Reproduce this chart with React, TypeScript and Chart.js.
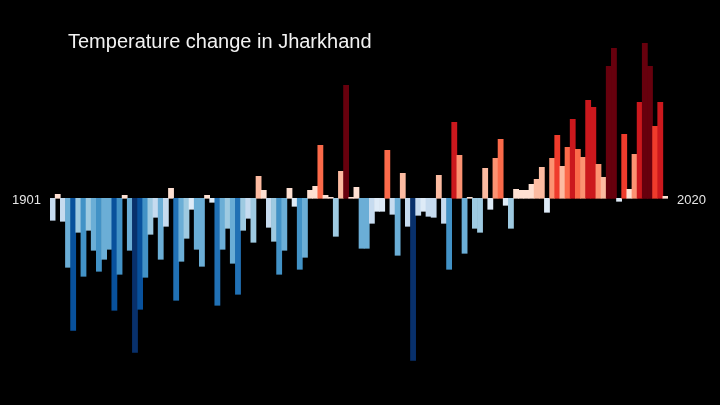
import React, { useEffect, useRef } from "react";
import { Chart, registerables } from "chart.js";

Chart.register(...registerables);

const firstYear = 1901;
const lastYear = 2020;
const titleText = "Temperature change in Jharkhand";

// anomaly estimates (°C-like units), 1901..2020
const anomalies1901to1940: number[] = [
  -0.22, 0.04, -0.23, -0.69, -1.32, -0.34, -0.78, -0.32, -0.52, -0.73,
  -0.61, -0.51, -1.12, -0.76, 0.03, -0.52, -1.54, -1.11, -0.79, -0.36,
  -0.19, -0.61, -0.28, 0.1, -1.02, -0.63, -0.4, -0.11, -0.51, -0.68,
  0.03, -0.04, -1.07, -0.51, -0.3, -0.65, -0.96, -0.32, -0.2, -0.44,
];
const anomalies1941to1980: number[] = [
  0.22, 0.08, -0.29, -0.43, -0.76, -0.52, 0.1, -0.08, -0.71, -0.59,
  0.08, 0.12, 0.53, 0.03, 0.01, -0.38, 0.27, 1.13, 0.01, 0.11,
  -0.5, -0.5, -0.25, -0.13, -0.13, 0.48, -0.16, -0.57, 0.25, -0.28,
  -1.62, -0.17, -0.13, -0.18, -0.19, 0.23, -0.25, -0.71, 0.76, 0.43,
];
const anomalies1981to2020: number[] = [
  -0.55, 0.01, -0.3, -0.34, 0.3, -0.11, 0.4, 0.59, -0.07, -0.3,
  0.09, 0.08, 0.08, 0.14, 0.19, 0.31, -0.14, 0.4, 0.63, 0.32,
  0.51, 0.79, 0.49, 0.41, 0.98, 0.91, 0.34, 0.21, 1.32, 1.5,
  -0.03, 0.64, 0.09, 0.44, 0.96, 1.55, 1.32, 0.72, 0.96, 0.02,
];

const anomalies = [...anomalies1901to1940, ...anomalies1941to1980, ...anomalies1981to2020];
const years: string[] = anomalies.map((_, i) => String(firstYear + i));

const bluesLightToDark = ["#deebf7", "#c6dbef", "#9ecae1", "#6baed6", "#4292c6", "#2171b5", "#08519c", "#08306b"];
const redsLightToDark = ["#fee0d2", "#fcbba1", "#fc9272", "#fb6a4a", "#ef3b2c", "#cb181d", "#a50f15", "#67000d"];
const blueSteps = [0, 0.15, 0.3, 0.5, 0.7, 0.9, 1.1, 1.4];
const redSteps = [0, 0.15, 0.33, 0.45, 0.6, 0.75, 1.05, 1.1];

function colorFor(v: number): string {
  const a = Math.abs(v);
  const steps = v >= 0 ? redSteps : blueSteps;
  let idx = 0;
  for (let k = 0; k < steps.length; k++) if (a >= steps[k]) idx = k;
  return v >= 0 ? redsLightToDark[idx] : bluesLightToDark[idx];
}

export default function App() {
  const ref = useRef<HTMLCanvasElement | null>(null);

  useEffect(() => {
    if (!ref.current) return;
    const chart = new Chart(ref.current, {
      type: "bar",
      data: {
        labels: years,
        datasets: [
          {
            data: anomalies,
            backgroundColor: (ctx: any) => colorFor(Number(ctx.raw ?? 0)),
            borderWidth: 0,
            barPercentage: 1,
            categoryPercentage: 1,
          },
        ],
      },
      options: {
        responsive: false,
        animation: false,
        devicePixelRatio: 1,
        layout: { padding: { left: 50, right: 52, top: 0, bottom: 0 } },
        plugins: { legend: { display: false }, tooltip: { enabled: false }, title: { display: false } },
        scales: {
          x: { display: false },
          y: { display: false, min: -2.067, max: 1.983 },
        },
      },
    });
    return () => chart.destroy();
  }, []);

  const textFont = '"Liberation Sans", Arial, Helvetica, sans-serif';

  return (
    <div style={{ position: "fixed", left: 0, top: 0, width: 720, height: 405, background: "#000", overflow: "hidden" }}>
      <canvas ref={ref} width={720} height={405} style={{ position: "absolute", left: 0, top: 0, width: 720, height: 405 }} />
      <div
        style={{
          position: "absolute",
          left: 68,
          top: 31,
          fontFamily: textFont,
          fontSize: 20,
          lineHeight: "20px",
          color: "#f2f2f2",
          whiteSpace: "nowrap",
        }}
      >
        {titleText}
      </div>
      <div
        style={{
          position: "absolute",
          left: 12,
          top: 193,
          fontFamily: textFont,
          fontSize: 13,
          lineHeight: "13px",
          color: "#e6e6e6",
        }}
      >
        {String(firstYear)}
      </div>
      <div
        style={{
          position: "absolute",
          left: 677,
          top: 193,
          fontFamily: textFont,
          fontSize: 13,
          lineHeight: "13px",
          color: "#e6e6e6",
        }}
      >
        {String(lastYear)}
      </div>
    </div>
  );
}
